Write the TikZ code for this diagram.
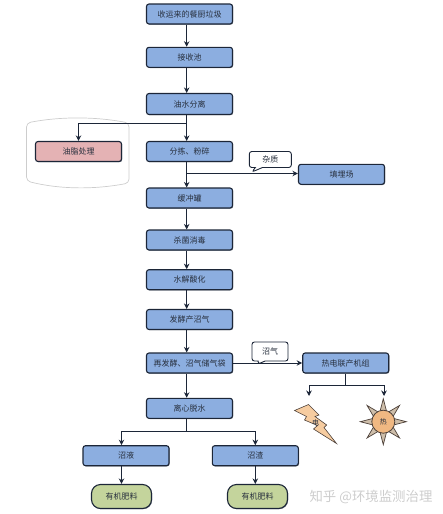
\documentclass[tikz,border=0pt]{standalone}
\usepackage{fontspec}
\setmainfont{Noto Sans CJK SC}
\usepackage{xcolor}
\usetikzlibrary{arrows.meta,shapes.callouts,shadows}
\definecolor{flowblue}{RGB}{140,174,224}
\definecolor{flowred}{RGB}{228,178,180}
\definecolor{flowgreen}{RGB}{196,212,156}
\definecolor{flowdark}{RGB}{28,38,56}
\definecolor{flowtext}{RGB}{40,48,62}
\definecolor{peach}{RGB}{246,204,160}
\definecolor{suncore}{RGB}{240,184,130}
\definecolor{sunspike}{RGB}{206,190,170}
\definecolor{markgrey}{RGB}{205,205,205}

\begin{document}
\begin{tikzpicture}[x=1pt, y=-1pt,
    box/.style={rectangle, draw=flowdark, line width=1.1pt, fill=flowblue,
        minimum width=86pt, minimum height=20pt, font=\fontsize{8}{9}\selectfont,
        text=flowtext, rounded corners=2.5pt, inner sep=1pt, align=center,
        drop shadow={shadow xshift=0.7pt, shadow yshift=-0.7pt, fill=flowdark!70, opacity=0.8}},
    pill/.style={box, rounded corners=9pt, fill=flowgreen, minimum width=60pt, minimum height=24pt},
    note/.style={rectangle callout, draw=flowdark, line width=0.9pt, fill=white, rounded corners=2.5pt,
        font=\fontsize{8}{9}\selectfont, text=flowtext, inner sep=1pt},
    arr/.style={-{Stealth[length=5.5pt, width=5.5pt]}, line width=1pt, flowdark},
    lin/.style={line width=1pt, flowdark}
]
    \useasboundingbox (0,0) rectangle (443,514);

    % spine of the chain, left of the box centres
    \coordinate (spine) at (186.7,0);

    % frame behind the oil box
    \draw[markgrey, line width=0.7pt, rounded corners=4pt]
        (26.5,123) .. controls (60,116.5) and (95,116.5) .. (129,123)
        -- (129,183) .. controls (95,189.5) and (60,189.5) .. (26.5,181) -- cycle;

    \node[box] (waste) at (189.5,14) {收运来的餐厨垃圾};
    \node[box] (pit) at (189.5,57.3) {接收池};
    \node[box, minimum height=21pt] (oilsep) at (189.5,104) {油水分离};
    \node[box] (sort) at (189.5,151.5) {分拣、粉碎};
    \node[box] (buffer) at (189.5,198) {缓冲罐};
    \node[box] (steril) at (189.5,240) {杀菌消毒};
    \node[box] (acid) at (189.5,279.7) {水解酸化};
    \node[box] (ferment) at (189.5,319.5) {发酵产沼气};
    \node[box] (refer) at (189.5,363) {再发酵、沼气储气袋};
    \node[box] (dewater) at (189.5,408.3) {离心脱水};

    \node[box, fill=flowred] (oil) at (78.5,151.5) {油脂处理};
    \node[box] (landfill) at (341.5,174.3) {填埋场};
    \node[box] (chp) at (345.7,363) {热电联产机组};
    \node[box] (slurry) at (126,455.7) {沼液};
    \node[box] (residue) at (255.3,455.7) {沼渣};
    \node[pill] (fertl) at (121.5,496.5) {有机肥料};
    \node[pill] (fertr) at (257.5,496.5) {有机肥料};

    \node[note, minimum width=42pt, minimum height=16pt, callout absolute pointer={(252,172)}] (impur) at (270.3,159.5) {杂质};
    \node[note, minimum width=36pt, minimum height=19pt, callout absolute pointer={(258,364)}] (biogas) at (270,351.5) {沼气};

    % lightning and sun
    \draw[draw=flowdark!70!brown, line width=0.6pt, fill=peach]
        (294.5,410.5) -- (308.5,404.5) -- (319,415) -- (315,416.5) -- (326.7,425)
        -- (324,427.5) -- (336.5,443.5) -- (313.5,429) -- (317.5,425.5) -- (304.5,420)
        -- (306.5,416.5) -- cycle;
    \node[font=\fontsize{7}{8}\selectfont, text=flowtext, inner sep=0pt] (power) at (315.7,423) {电};

    \coordinate (sun) at (383.3,421.7);
    \foreach \ang in {0,45,...,315}
        \draw[draw=flowdark!70!brown, line width=0.7pt, fill=sunspike]
            ([shift={(\ang-17:11pt)}]sun) -- ([shift={(\ang:23pt)}]sun)
            -- ([shift={(\ang+17:11pt)}]sun) -- cycle;
    \node[circle, draw=flowdark!70!brown, line width=0.8pt, fill=suncore, minimum size=23pt, inner sep=0pt,
        font=\fontsize{7}{8}\selectfont, text=flowtext] (heat) at (sun) {热};

    % main chain
    \draw[arr] (waste.south -| spine) -- (pit.north -| spine);
    \draw[arr] (pit.south -| spine) -- (oilsep.north -| spine);
    \draw[arr] (oilsep.south -| spine) -- (sort.north -| spine);
    \draw[arr] (sort.south -| spine) -- (buffer.north -| spine);
    \draw[arr] (buffer.south -| spine) -- (steril.north -| spine);
    \draw[arr] (steril.south -| spine) -- (acid.north -| spine);
    \draw[arr] (acid.south -| spine) -- (ferment.north -| spine);
    \draw[arr] (ferment.south -| spine) -- (refer.north -| spine);
    \draw[arr] (refer.south -| spine) -- (dewater.north -| spine);

    % branches
    \coordinate (oilturn) at (186.7,123.5);
    \coordinate (sandturn) at (186.7,173.5);
    \coordinate (splitturn) at (186.7,431);
    \coordinate (chpturn) at (345,385);
    \coordinate (powerend) at (309,396);
    \coordinate (heatend) at (384,396);
    \draw[arr] (oilturn) -| (oil.north);
    \draw[arr] (sandturn) -- (landfill.west |- sandturn);
    \draw[arr] (refer.east) -- (chp.west);

    \draw[lin] (dewater.south -| spine) -- (splitturn);
    \draw[arr] (splitturn) -| (fertl.north |- slurry.north);
    \draw[arr] (splitturn) -| (residue.north);
    \draw[arr] (fertl.north |- slurry.south) -- (fertl.north);
    \draw[arr] (residue.south) -- (residue.south |- fertr.north);

    \draw[lin] (chp.south -| chpturn) -- (chpturn);
    \draw[arr] (chpturn) -| (powerend);
    \draw[arr] (chpturn) -| (heatend);

    \node[text=markgrey, font=\fontsize{13.4}{14}\selectfont, inner sep=0pt] (mark) at (371,497) {知乎 @环境监测治理};
\end{tikzpicture}
\end{document}
